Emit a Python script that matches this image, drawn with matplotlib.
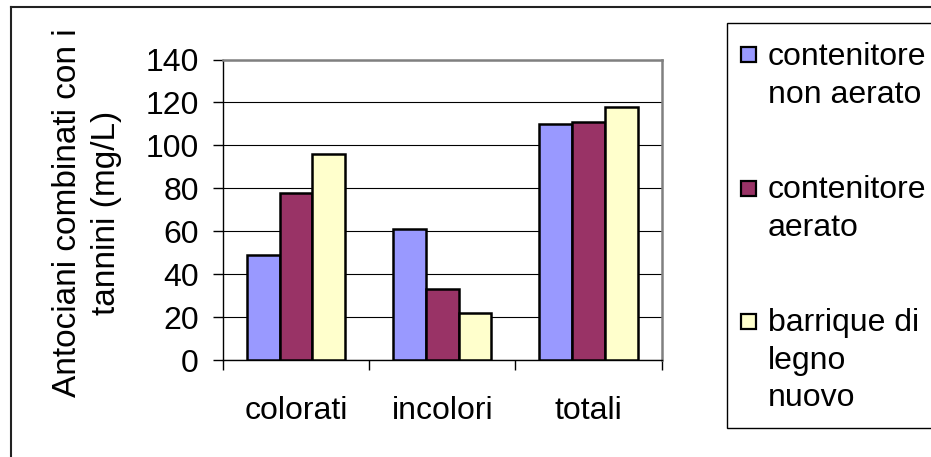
import matplotlib.pyplot as plt
import matplotlib.patches as mpatches
import matplotlib.lines as mlines
import numpy as np

plt.rcParams['font.family'] = ['Liberation Sans', 'DejaVu Sans']

categories = ["colorati", "incolori", "totali"]
series_names = ["contenitore\nnon aerato", "contenitore\naerato", "barrique di\nlegno\nnuovo"]
non_aerato = [49, 61, 110]
aerato = [78, 33, 111]
barrique = [96, 22, 118]
colors = ["#9999FF", "#993366", "#FFFFCC"]
y_ticks = [0, 20, 40, 60, 80, 100, 120, 140]

FS = 23
W, H = 931, 457
fig = plt.figure(figsize=(W / 100, H / 100), dpi=100)
ax = fig.add_axes([223 / W, 1 - 360 / H, (661.5 - 223) / W, (360 - 59.5) / H])

x = np.arange(len(categories))
width = 0.224
for i, (vals, c) in enumerate(zip([non_aerato, aerato, barrique], colors)):
    ax.bar(x + (i - 1) * width, vals, width, color=c, edgecolor="black",
           linewidth=1.8, zorder=3)

ax.set_xlim(-0.5, 2.5)
ax.set_ylim(0, 140)
ax.set_yticks(y_ticks)
ax.yaxis.grid(True, color="black", linewidth=0.8, zorder=0)
ax.set_xticks(x)
ax.set_xticklabels(categories)
ax.set_xticks([-0.5, 0.5, 1.5, 2.5], minor=True)
ax.tick_params(axis="x", which="major", length=0, pad=26, labelsize=FS)
ax.tick_params(axis="x", which="minor", length=7.5, width=1, direction="out")
ax.tick_params(axis="y", length=7.5, width=1, direction="out", pad=10, labelsize=FS)

for side in ["top", "right"]:
    ax.spines[side].set_color("#808080")
    ax.spines[side].set_linewidth(1.8)
for side in ["left", "bottom"]:
    ax.spines[side].set_color("black")
    ax.spines[side].set_linewidth(1.0)

# axis title, two lines, rotated
fig.text(87 / W, 1 - 213 / H, "Antociani combinati con i\ntannini (mg/L)",
         fontsize=24, rotation=90, ha="center", va="center",
         multialignment="center", linespacing=1.32)

# outer chart frame (left and top edges)
fig.add_artist(mlines.Line2D([11 / W, 11 / W], [0, 1 - 7 / H], color="#222222",
                             linewidth=1.5, transform=fig.transFigure))
fig.add_artist(mlines.Line2D([11 / W, 1], [1 - 7 / H, 1 - 7 / H], color="#222222",
                             linewidth=1.5, transform=fig.transFigure))

# legend box
fig.add_artist(mpatches.Rectangle((727 / W, 1 - 428 / H), (W + 5 - 727) / W,
                                  (428 - 23) / H, facecolor="white",
                                  edgecolor="black", linewidth=1.0,
                                  transform=fig.transFigure))
entry_centers = [55, 188, 321]
for name, c, yc in zip(series_names, colors, entry_centers):
    fig.add_artist(mpatches.Rectangle((741 / W, 1 - (yc + 7.5) / H), 15 / W, 15 / H,
                                      facecolor=c, edgecolor="black",
                                      linewidth=1.6, transform=fig.transFigure))
    fig.text(768 / W, 1 - (yc - 13) / H, name, fontsize=FS, va="top",
             ha="left", linespacing=1.33)

fig.savefig("out.png", dpi=100)
